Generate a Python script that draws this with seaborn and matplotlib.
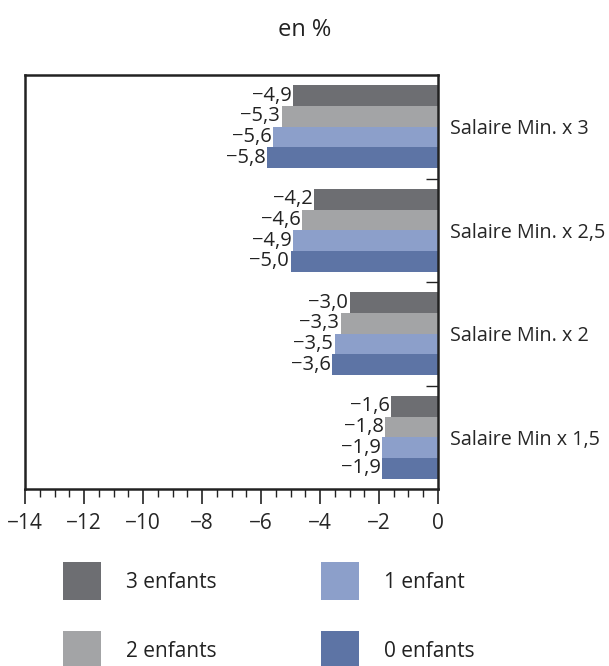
import matplotlib
matplotlib.use("Agg")
import matplotlib.pyplot as plt
import seaborn as sns
import pandas as pd
import numpy as np
from matplotlib.ticker import MultipleLocator, FixedLocator

categories = ["Salaire Min. x 3", "Salaire Min. x 2,5", "Salaire Min. x 2", "Salaire Min x 1,5"]
series = ["3 enfants", "2 enfants", "1 enfant", "0 enfants"]
vals_3 = [-4.9, -4.2, -3.0, -1.6]
vals_2 = [-5.3, -4.6, -3.3, -1.8]
vals_1 = [-5.6, -4.9, -3.5, -1.9]
vals_0 = [-5.8, -5.0, -3.6, -1.9]
colors = ["#6d6e72", "#a3a4a6", "#8c9fca", "#5d74a5"]
xticks = [-14, -12, -10, -8, -6, -4, -2, 0]

rows = []
for s, vals in zip(series, [vals_3, vals_2, vals_1, vals_0]):
    for c, v in zip(categories, vals):
        rows.append({"cat": c, "serie": s, "val": v})
df = pd.DataFrame(rows)

sns.set_theme(style="white")
plt.rcParams["font.family"] = ["Open Sans", "DejaVu Sans"]
plt.rcParams["text.color"] = "#222222"

fig = plt.figure(figsize=(6.09, 6.66), dpi=100)
ax = fig.add_axes([25/609, 1-489/666, (438-25)/609, (489-75)/666])

sns.barplot(data=df, y="cat", x="val", hue="serie", order=categories,
            hue_order=series, palette=colors, orient="h", width=0.8,
            saturation=1, ax=ax, legend=True, linewidth=0, edgecolor="none")

fmt = lambda v: f"{v:.1f}".replace(".", ",").replace("-", "\u2212")
for cont in ax.containers:
    ax.bar_label(cont, labels=[fmt(v) for v in cont.datavalues], padding=1,
                 fontsize=14.5, color="#222222",
                 bbox=dict(facecolor="white", edgecolor="none", pad=0.2))

ax.set_xlim(-14, 0)
ax.set_ylim(3.5, -0.5)
ax.xaxis.set_major_locator(FixedLocator(xticks))
ax.xaxis.set_minor_locator(MultipleLocator(0.5))
ax.set_xticklabels([str(t).replace("-", "\u2212") for t in xticks], fontsize=15)
ax.tick_params(axis="x", which="major", direction="out", length=11, width=1.2,
               color="#222222", bottom=True, pad=6)
ax.tick_params(axis="x", which="minor", direction="out", length=6, width=1.0,
               color="#222222", bottom=True)

ax.yaxis.tick_right()
ax.yaxis.set_label_position("right")
ax.set_yticks(range(len(categories)))
ax.set_yticklabels(categories, fontsize=14.2)
ax.yaxis.set_minor_locator(FixedLocator([0.5, 1.5, 2.5]))
ax.tick_params(axis="y", which="major", length=0, pad=9, left=False, right=False)
ax.tick_params(axis="y", which="minor", direction="in", length=9, width=1.0,
               color="#222222", right=True, left=False)
ax.set_xlabel("")
ax.set_ylabel("")

for sp in ax.spines.values():
    sp.set_visible(True)
    sp.set_color("#222222")
    sp.set_linewidth(1.8)

handles, labels = ax.get_legend_handles_labels()
ax.get_legend().remove()
fig.legend(handles, labels, ncol=2, loc="upper left", bbox_to_anchor=(55/609, 1-554/666),
           frameon=False, fontsize=15, handlelength=1.83, handleheight=2.43,
           handletextpad=1.2, labelspacing=1.49, columnspacing=5.0, borderaxespad=0)

fig.text(0.5, 1-30/666, "en %", ha="center", va="center", fontsize=17)

fig.savefig("out.png", dpi=100)
